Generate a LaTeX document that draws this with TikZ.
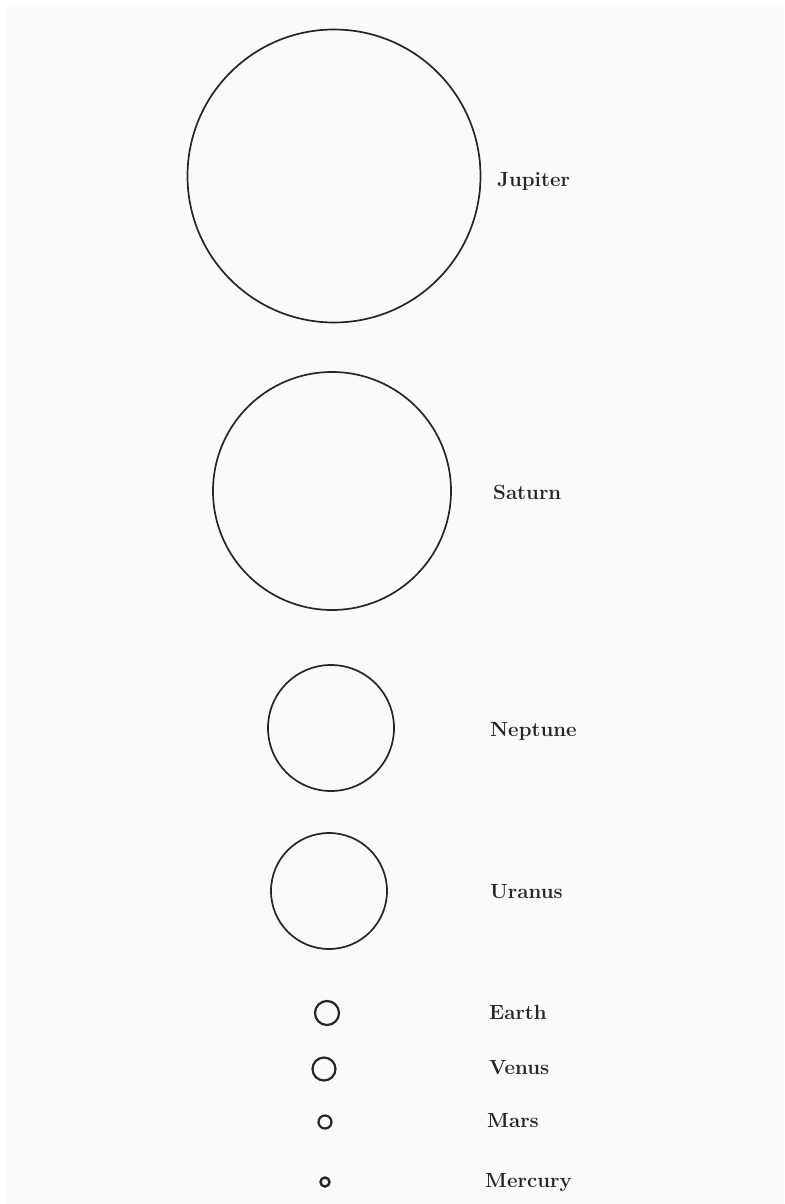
\documentclass[tikz,border=0pt]{standalone}
\usepackage{tikz}
\usetikzlibrary{shapes}

\tikzset{
  planet/.style={shape=circle,draw=black!85,line width=1.7pt,inner sep=0pt,outer sep=0pt},
  planetname/.style={anchor=west,font=\fontsize{20.5}{24}\selectfont\bfseries,text=black!85,inner sep=0pt}
}

\begin{document}
\begin{tikzpicture}[x=1pt,y=-1pt]
\useasboundingbox (0,0) rectangle (784,1204);
\fill[white] (0,0) rectangle (784,1204);
\fill[black!2] (6,7) rectangle (784,1204);
% planets, sizes to scale
\node[planet,minimum size=293pt] (jupiter) at (334,176) {};
\node[planet,minimum size=238pt] (saturn) at (332,491) {};
\node[planet,minimum size=126pt] (neptune) at (331,728) {};
\node[planet,minimum size=116pt] (uranus) at (329,891) {};
\node[planet,minimum size=24pt,line width=2.2pt] (earth) at (327,1013) {};
\node[planet,minimum size=23pt,line width=2.2pt] (venus) at (324,1069) {};
\node[planet,minimum size=13pt,line width=2.2pt] (mars) at (325,1122) {};
\node[planet,minimum size=9pt,line width=2.4pt] (mercury) at (325,1182) {};
% names
\node[planetname] (jupiterlbl) at (497,181) {Jupiter};
\node[planetname] (saturnlbl) at (493,492) {Saturn};
\node[planetname] (neptunelbl) at (490,731) {Neptune};
\node[planetname] (uranuslbl) at (490,892) {Uranus};
\node[planetname] (earthlbl) at (489,1012) {Earth};
\node[planetname] (venuslbl) at (489,1068) {Venus};
\node[planetname] (marslbl) at (487,1121) {Mars};
\node[planetname] (mercurylbl) at (485,1183) {Mercury};
\end{tikzpicture}
\end{document}
